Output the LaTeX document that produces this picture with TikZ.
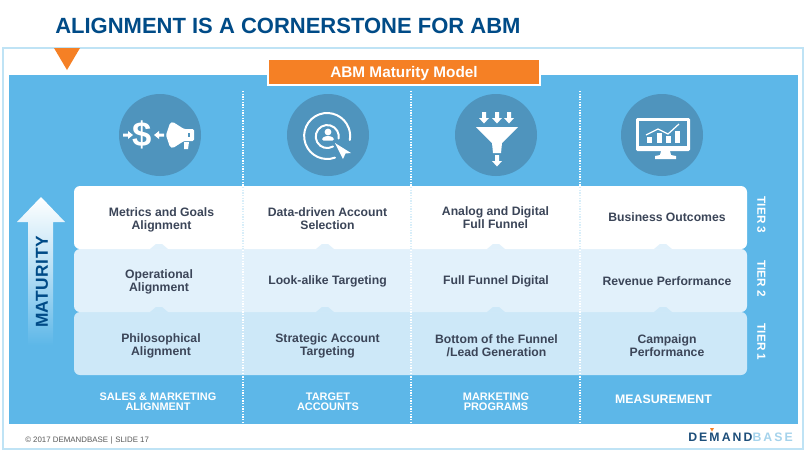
\documentclass[tikz,border=0pt]{standalone}
\usepackage{fontspec}
\setmainfont{Liberation Sans}
\definecolor{panel}{HTML}{5DB7E8}
\definecolor{frameline}{HTML}{BFE3F5}
\definecolor{orangeb}{HTML}{F58025}
\definecolor{circ}{HTML}{4F94BD}
\definecolor{navy}{HTML}{004B87}
\definecolor{tiertwo}{HTML}{E2F1FB}
\definecolor{tierone}{HTML}{CDE8F8}
\definecolor{ink}{HTML}{3B4558}
\definecolor{logodark}{HTML}{1D4E7A}
\definecolor{logolight}{HTML}{A5D3EC}
\tikzset{
  x=0.75pt,y=-0.75pt,
  tiertext/.style={font=\fontsize{9.15pt}{9.75pt}\selectfont\bfseries,text=ink,align=center,inner sep=0pt},
  collabel/.style={font=\fontsize{8.2pt}{7.6pt}\selectfont\bfseries,text=white,align=center,inner sep=0pt},
  tierlabel/.style={font=\fontsize{8.8pt}{9pt}\selectfont\bfseries,text=white,rotate=-90,inner sep=0pt},
  iconcircle/.style={fill=circ,draw=none},
  iconline/.style={draw=white,line width=1.5pt,line cap=round},
  dotline/.style={draw=white,line width=1pt,dash pattern=on 1pt off 1pt},
  tierbox/.style={rounded corners=4.5pt,draw=none},
}
\newcommand{\smallarrowR}[2]{\fill[white] (#1,#2-1.5) -- (#1+5,#2-1.5) -- (#1+5,#2-4) -- (#1+10,#2) -- (#1+5,#2+4) -- (#1+5,#2+1.5) -- (#1,#2+1.5) -- cycle;}
\newcommand{\smallarrowL}[2]{\fill[white] (#1,#2-1.5) -- (#1-5,#2-1.5) -- (#1-5,#2-4) -- (#1-10,#2) -- (#1-5,#2+4) -- (#1-5,#2+1.5) -- (#1,#2+1.5) -- cycle;}
\newcommand{\smallarrowD}[2]{\fill[white] (#1-2,#2) -- (#1+2,#2) -- (#1+2,#2+6) -- (#1+5,#2+6) -- (#1,#2+11.5) -- (#1-5,#2+6) -- (#1-2,#2+6) -- cycle;}
\newcommand{\bump}[3]{\fill[#3] (#1-9,#2) -- (#1-3,#2-5) -- (#1+3,#2-5) -- (#1+9,#2) -- cycle;}
\begin{document}
\begin{tikzpicture}
\useasboundingbox (0,0) rectangle (808,451);
\fill[white] (0,0) rectangle (808,451);
% title
\node[anchor=base west,inner sep=0pt,text=navy,font=\fontsize{16.5pt}{18pt}\selectfont\bfseries] (title) at (55,33) {ALIGNMENT IS A CORNERSTONE FOR ABM};
% frame and panel
\draw[frameline,line width=1.1pt] (3,48) rectangle (803,449);
\fill[panel] (9,75) rectangle (798,424);
\fill[orangeb] (54,48) -- (80,48) -- (67,70) -- cycle;
% dividers
\foreach \xx in {243,411,580} {
  \draw[dotline] (\xx,91) -- (\xx,424);
}
% header
\node[fill=orangeb,draw=white,line width=0.8pt,minimum width=204pt,minimum height=19.5pt,inner sep=0pt,text depth=0pt,text=white,font=\fontsize{11.5pt}{12pt}\selectfont\bfseries] (header) at (404,72) {ABM Maturity Model};
% icon circles
\fill[iconcircle] (160,135) circle[radius=41];
\fill[iconcircle] (328,135) circle[radius=41];
\fill[iconcircle] (496,135) circle[radius=41];
\fill[iconcircle] (662,135) circle[radius=41];
% icon 1
\smallarrowR{123}{135}
\node[text=white,inner sep=0pt,font=\fontsize{26pt}{26pt}\selectfont\bfseries] (dollar) at (142.5,135) {\$};
\smallarrowL{164}{135}
\fill[white,rounded corners=1pt] (166,135) -- (170,123) -- (173,122) -- (184,129) -- (194,129) -- (194,141) -- (184,141) -- (173,148) -- (170,147) -- cycle;
\fill[white] (184,142) -- (189,142) -- (188,149) -- (184,149) -- cycle;
\fill[circ] (188,133) rectangle (190,137);
% icon 2
\draw[iconline] (335,157.6) arc[start angle=70,end angle=370,radius=23];
\draw[iconline] (333,146.5) arc[start angle=60,end angle=370,radius=11.5];
\fill[white] (328,132) circle[radius=3.4];
\fill[white,rounded corners=1pt] (322,140.5) -- (322,138) -- (326,136) -- (330,136) -- (334,138) -- (334,140.5) -- cycle;
\fill[white] (335,143) -- (351,153) -- (345.5,153.5) -- (343,159) -- cycle;
% icon 3
\smallarrowD{484}{112}
\smallarrowD{497}{112}
\smallarrowD{509}{112}
\fill[white] (476,127) -- (518,127) -- (502,143) -- (501,153) -- (493,153) -- (492,143) -- cycle;
\smallarrowD{497}{155}
% icon 4
\fill[white,rounded corners=1pt] (636,118) rectangle (690,151);
\fill[circ] (639,121) rectangle (687,146);
\fill[white] (661,151) -- (670,151) -- (671,155) -- (676,156) -- (676,159) -- (655,159) -- (655,156) -- (660,155) -- cycle;
\fill[white] (647,137) rectangle (652,143);
\fill[white] (657,133) rectangle (662,143);
\fill[white] (666,136) rectangle (671,143);
\fill[white] (675,131) rectangle (680,143);
\draw[white,line width=0.9pt] (646,135) -- (658,129) -- (668,134) -- (679,124);
% maturity arrow
\shade[top color=white,bottom color=panel,middle color=panel!45!white] (41,197) -- (65,222) -- (53,222) -- (53,345) -- (28,345) -- (28,222) -- (17,222) -- cycle;
\node[rotate=90,inner sep=0pt,text=navy,font=\fontsize{13pt}{14pt}\selectfont\bfseries\addfontfeature{LetterSpace=3}] (maturity) at (42,282) {MATURITY};
% tiers
\fill[tierbox,tierone] (74,312) rectangle (747,375);
\fill[tierbox,tiertwo] (74,249) rectangle (747,312);
\fill[tierbox,white] (74,186) rectangle (747,249);
\foreach \xx in {243,411,580} {
  \draw[white,line width=1pt,dash pattern=on 1pt off 1pt] (\xx,250) -- (\xx,375);
  \draw[frameline!60!white,line width=0.8pt,dash pattern=on 1pt off 1pt] (\xx,187) -- (\xx,249);
}
\foreach \xx in {159,325,496,663} {
  \bump{\xx}{249}{tiertwo}
  \bump{\xx}{312}{tierone}
}
% tier texts
\node[tiertext] (a3) at (161.5,219.5) {Metrics and Goals\\Alignment};
\node[tiertext] (b3) at (327.5,218.5) {Data-driven Account\\Selection};
\node[tiertext] (c3) at (495.5,217.5) {Analog and Digital\\Full Funnel};
\node[tiertext] (d3) at (667,217) {Business Outcomes};
\node[tiertext] (a2) at (159,281.5) {Operational\\Alignment};
\node[tiertext] (b2) at (327.5,281) {Look-alike Targeting};
\node[tiertext] (c2) at (496,281) {Full Funnel Digital};
\node[tiertext] (d2) at (667,281) {Revenue Performance};
\node[tiertext] (a1) at (161,345.5) {Philosophical\\Alignment};
\node[tiertext] (b1) at (327.5,345.5) {Strategic Account\\Targeting};
\node[tiertext] (c1) at (496.5,345.5) {Bottom of the Funnel\\/Lead Generation};
\node[tiertext] (d1) at (667,345.5) {Campaign\\Performance};
% tier labels
\node[tierlabel] (t3) at (761.5,215) {TIER 3};
\node[tierlabel] (t2) at (761.5,278.5) {TIER 2};
\node[tierlabel] (t1) at (761.5,342) {TIER 1};
% column labels
\node[collabel] (la) at (158,402) {SALES \& MARKETING\\ALIGNMENT};
\node[collabel] (lb) at (328,402) {TARGET\\ACCOUNTS};
\node[collabel] (lc) at (496,402) {MARKETING\\PROGRAMS};
\node[collabel,font=\fontsize{9.25pt}{9pt}\selectfont\bfseries] (ld) at (663.5,399) {MEASUREMENT};
% footer
\node[anchor=west,inner sep=0pt,text=black!65,font=\fontsize{5.9pt}{7pt}\selectfont] (foot) at (25,440) {© 2017 DEMANDBASE\,\,|\,\,SLIDE 17};
\fill[orangeb] (710,428) -- (714,428) -- (712,431.5) -- cycle;
\node[anchor=base west,inner sep=0pt,font=\fontsize{9.2pt}{10pt}\selectfont\bfseries\addfontfeature{LetterSpace=17}] (logo) at (688,441) {\textcolor{logodark}{DEMAND}\textcolor{logolight}{BASE}};
\end{tikzpicture}
\end{document}
